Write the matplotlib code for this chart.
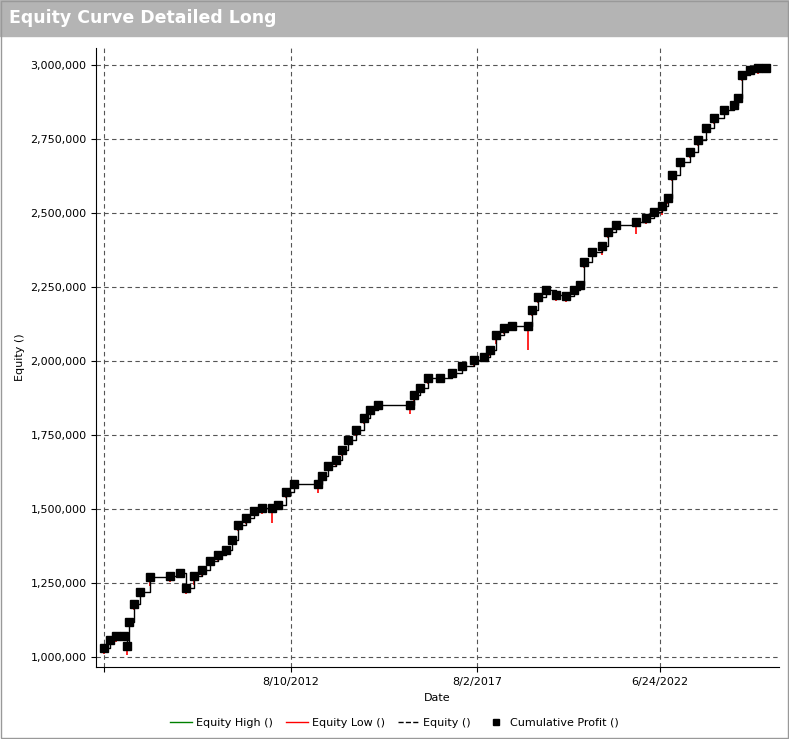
import matplotlib
matplotlib.use("Agg")
import matplotlib.pyplot as plt
from matplotlib.lines import Line2D
from matplotlib.patches import Rectangle
import numpy as np

years = [2007.60,2007.76,2007.92,2008.14,2008.22,2008.27,2008.40,2008.56,2008.83,2009.37,2009.63,2009.80,
 2010.01,2010.22,2010.44,2010.65,2010.87,2011.03,2011.19,2011.40,2011.62,2011.83,2012.10,2012.26,2012.47,
 2012.69,2013.33,2013.44,2013.60,2013.81,2013.97,2014.13,2014.35,2014.56,2014.72,2014.93,2015.79,2015.90,
 2016.06,2016.27,2016.59,2016.92,2017.18,2017.50,2017.77,2017.93,2018.09,2018.31,2018.52,2018.95,2019.06,
 2019.22,2019.43,2019.70,2019.97,2020.18,2020.34,2020.45,2020.66,2020.93,2021.09,2021.31,2021.84,2022.11,
 2022.32,2022.54,2022.70,2022.81,2023.02,2023.29,2023.50,2023.72,2023.93,2024.20,2024.47,2024.57,2024.68,
 2024.89,2025.11,2025.32]
equity = [1.030,1.057,1.071,1.071,1.037,1.118,1.179,1.220,1.270,1.274,1.284,1.233,1.274,1.294,1.324,1.345,
 1.361,1.395,1.446,1.470,1.493,1.503,1.503,1.514,1.557,1.584,1.584,1.611,1.645,1.666,1.699,1.733,1.767,1.807,
 1.834,1.851,1.851,1.885,1.909,1.943,1.943,1.959,1.983,2.003,2.014,2.037,2.088,2.111,2.118,2.118,2.172,2.216,
 2.240,2.223,2.220,2.240,2.257,2.334,2.368,2.389,2.436,2.459,2.470,2.483,2.503,2.524,2.551,2.628,2.672,2.706,
 2.747,2.787,2.821,2.848,2.865,2.889,2.966,2.983,2.990,2.990]
drawdown = [0.02,0.01,0.02,0.01,0.03,0.01,0.02,0.01,0.03,0.02,0.01,0.02,0.03,0.02,0.01,0.02,0.02,0.01,0.02,
 0.02,0.01,0.02,0.05,0.01,0.02,0.01,0.03,0.02,0.01,0.02,0.02,0.01,0.02,0.02,0.01,0.02,0.03,0.02,0.01,0.02,
 0.01,0.02,0.01,0.02,0.01,0.02,0.03,0.02,0.01,0.08,0.02,0.02,0.01,0.02,0.02,0.01,0.02,0.02,0.01,0.03,0.02,
 0.01,0.04,0.02,0.01,0.03,0.02,0.02,0.01,0.02,0.02,0.01,0.02,0.01,0.02,0.01,0.02,0.01,0.02,0.01]
xtick_pos = [2007.60, 2012.61, 2017.59, 2022.48]
xtick_labels = ["", "8/10/2012", "8/2/2017", "6/24/2022"]
ytick_vals = [1000000,1250000,1500000,1750000,2000000,2250000,2500000,2750000,3000000]

x = np.array(years)
y = np.array(equity) * 1e6
low = y - np.array(drawdown) * 1e6

fig = plt.figure(figsize=(7.89, 7.39), dpi=100)
fig.patches.append(Rectangle((0, 0.951), 1, 0.049, transform=fig.transFigure, color="#b4b4b4", zorder=0))
fig.patches.append(Rectangle((0.001, 0.001), 0.998, 0.998, transform=fig.transFigure, fill=False, ec="#999999", lw=1))
fig.text(0.012, 0.975, "Equity Curve Detailed Long", color="white", fontsize=12.5, fontweight="bold", va="center")

ax = fig.add_axes([0.122, 0.097, 0.865, 0.838])
ax.vlines(x, low, y, color="red", lw=1.2, zorder=2)
ax.vlines(x, y, y + 3000, color="green", lw=1.0, zorder=2)
ax.plot(x, y, color="black", lw=1.0, drawstyle="steps-post", zorder=3)
ax.plot(x, y, ls="none", marker="s", ms=6, color="black", zorder=4)

ax.set_xlim(2007.39, 2025.67)
ax.set_ylim(966000, 3057000)
ax.set_xticks(xtick_pos)
ax.set_xticklabels(xtick_labels, fontsize=8)
ax.set_yticks(ytick_vals)
ax.set_yticklabels([f"{v:,}" for v in ytick_vals], fontsize=8)
ax.grid(True, ls=(0, (4, 3)), color="#555555", lw=0.8)
for s in ["top", "right"]:
    ax.spines[s].set_visible(False)
ax.set_xlabel("Date", fontsize=8)
ax.set_ylabel("Equity ()", fontsize=8)

handles = [Line2D([], [], color="green", lw=1), Line2D([], [], color="red", lw=1),
           Line2D([], [], color="black", lw=1, ls="--"),
           Line2D([], [], color="black", ls="none", marker="s", ms=5)]
fig.legend(handles, ["Equity High ()", "Equity Low ()", "Equity ()", "Cumulative Profit ()"],
           loc="center", bbox_to_anchor=(0.5, 0.022), ncol=4, frameon=False, fontsize=8,
           handlelength=2, columnspacing=1.2, handletextpad=0.3)
fig.savefig("out.png", dpi=100)
